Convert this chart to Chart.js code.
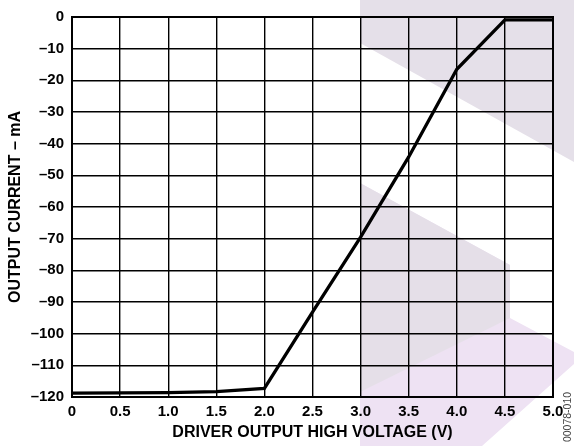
<!DOCTYPE html>
<html>
<head>
<meta charset="utf-8">
<script src="https://cdn.jsdelivr.net/npm/chart.js@4/dist/chart.umd.min.js"></script>
<style>
  html, body { margin: 0; padding: 0; background: #fff; }
  canvas { display: block; }
</style>
</head>
<body>
<canvas id="ivChart" width="574" height="446"></canvas>
<script>
// driver output high voltage (V) vs output current (mA)
const voltage = [0, 0.5, 1.0, 1.5, 2.0, 2.5, 3.0, 3.5, 4.0, 4.5, 5.0];
const current = [-118.8, -118.7, -118.6, -118.3, -117.3, -93.2, -69.5, -44.2, -16.5, -0.9, -0.9];

const xTitle = 'DRIVER OUTPUT HIGH VOLTAGE (V)';
const yTitle = 'OUTPUT CURRENT – mA';
const figureId = '00078-010';

const fontFamily = '"Liberation Sans", Arial, Helvetica, sans-serif';

function poly(ctx, pts, color) {
  ctx.fillStyle = color;
  ctx.beginPath();
  pts.forEach(([x, y], i) => i ? ctx.lineTo(x, y) : ctx.moveTo(x, y));
  ctx.closePath();
  ctx.fill();
}

// faint logo watermark behind the plot, plus frame and figure id on top
const decor = {
  id: 'decor',
  beforeDraw(chart) {
    const ctx = chart.ctx;
    ctx.save();
    poly(ctx, [[360, 0], [574, 0], [574, 162], [360, 43]], '#e5e0e9');
    poly(ctx, [[360, 183], [510, 265], [510, 318], [574, 352], [574, 364], [482, 446], [360, 446]], '#eee2f3');
    poly(ctx, [[360, 183], [510, 265], [510, 318], [360, 392]], '#e5dfe8');
    ctx.restore();
  },
  afterDraw(chart) {
    const ctx = chart.ctx;
    const a = chart.chartArea;
    ctx.save();
    ctx.strokeStyle = '#000';
    ctx.lineWidth = 2;
    ctx.strokeRect(a.left, a.top, a.right - a.left, a.bottom - a.top);

    ctx.translate(568, 417);
    ctx.rotate(-Math.PI / 2);
    ctx.font = '10.5px ' + fontFamily;
    ctx.fillStyle = '#444';
    ctx.textAlign = 'center';
    ctx.textBaseline = 'middle';
    ctx.fillText(figureId, 0, 0);
    ctx.restore();
  }
};

const ctx = document.getElementById('ivChart').getContext('2d');

new Chart(ctx, {
  type: 'line',
  data: {
    datasets: [{
      data: voltage.map((v, i) => ({ x: v, y: current[i] })),
      borderColor: '#000',
      borderWidth: 3.3,
      pointRadius: 0,
      tension: 0,
      fill: false
    }]
  },
  options: {
    responsive: false,
    animation: false,
    layout: { padding: { left: 0, top: 14, right: 21, bottom: 0 } },
    plugins: {
      legend: { display: false },
      tooltip: { enabled: false }
    },
    scales: {
      x: {
        type: 'linear',
        min: 0,
        max: 5,
        afterFit: (s) => { s.height = 49; },
        grid: { color: '#000', lineWidth: 1.4, drawTicks: false },
        border: { display: false },
        ticks: {
          stepSize: 0.5,
          padding: 6,
          color: '#000',
          font: { family: fontFamily, size: 15, weight: 'bold' },
          callback: (v) => v === 0 ? '0' : v.toFixed(1)
        },
        title: {
          display: true,
          text: xTitle,
          color: '#000',
          font: { family: fontFamily, size: 16, weight: 'bold' },
          padding: { top: 0, bottom: 4 }
        }
      },
      y: {
        type: 'linear',
        min: -120,
        max: 0,
        afterFit: (s) => { s.width = 72; },
        grid: { color: '#000', lineWidth: 1.4, drawTicks: false },
        border: { display: false },
        ticks: {
          stepSize: 10,
          padding: 8,
          color: '#000',
          font: { family: fontFamily, size: 15, weight: 'bold' },
          callback: (v) => String(v).replace('-', '–')
        },
        title: {
          display: true,
          text: yTitle,
          color: '#000',
          font: { family: fontFamily, size: 16, weight: 'bold' },
          padding: { top: 6, bottom: 0 }
        }
      }
    }
  },
  plugins: [decor]
});
</script>
</body>
</html>
